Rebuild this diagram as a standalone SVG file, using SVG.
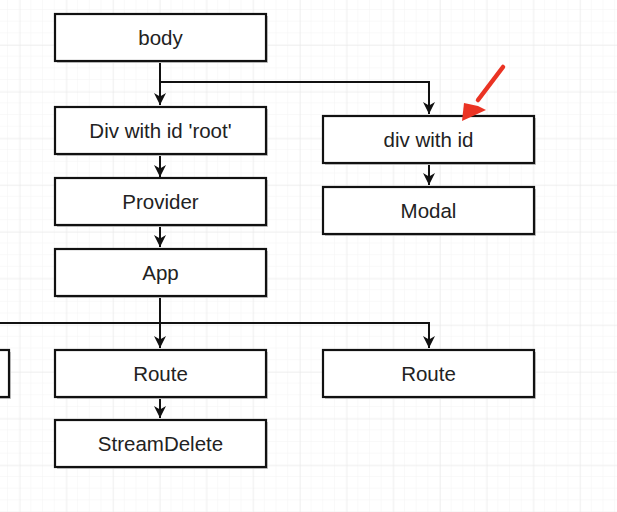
<svg xmlns="http://www.w3.org/2000/svg" width="617" height="512" viewBox="0 0 617 512">
<defs>
<pattern id="minor" x="19.7" y="-1.7" width="11.675" height="11.675" patternUnits="userSpaceOnUse">
<path d="M11.675 0V11.675H0" fill="none" stroke="#f3f3f3" stroke-width="1"/>
</pattern>
<pattern id="major" x="19.7" y="-1.7" width="46.7" height="46.7" patternUnits="userSpaceOnUse">
<path d="M0 0V46.7M0 0H46.7" fill="none" stroke="#e8e8e8" stroke-width="1"/>
</pattern>
<marker id="ah" viewBox="0 0 12 12" refX="12" refY="6" markerWidth="12" markerHeight="12" markerUnits="userSpaceOnUse" orient="auto">
<path d="M0 0L12 6L0 12L3.5 6Z" fill="#111"/>
</marker>
</defs>
<style>
.box{fill:#fff;stroke:#111;stroke-width:2.2}
.sh{fill:#c8c8c8}
.lbl{font-family:"Liberation Sans",Arial,sans-serif;font-size:20.5px;fill:#222;text-anchor:middle}
.ln{fill:none;stroke:#111;stroke-width:2}
</style>
<rect width="617" height="512" fill="#fff"/>
<rect width="617" height="512" fill="url(#minor)"/>
<rect width="617" height="512" fill="url(#major)"/>

<g id="connectors">
<path class="ln" d="M160 61V105" marker-end="url(#ah)"/>
<path class="ln" d="M160 82H429V114" marker-end="url(#ah)"/>
<path class="ln" d="M160 154V177" marker-end="url(#ah)"/>
<path class="ln" d="M160 225V247" marker-end="url(#ah)"/>
<path class="ln" d="M160 296V348" marker-end="url(#ah)"/>
<path class="ln" d="M0 323H429V348" marker-end="url(#ah)"/>
<path class="ln" d="M429 163V185" marker-end="url(#ah)"/>
<path class="ln" d="M160 397V418" marker-end="url(#ah)"/>
</g>

<g id="node-body"><rect class="sh" x="57" y="16" width="211" height="47"/><rect class="box" x="55" y="14" width="211" height="47"/><text class="lbl" x="160.5" y="45">body</text></g>
<g id="node-root"><rect class="sh" x="57" y="109" width="211" height="47"/><rect class="box" x="55" y="107" width="211" height="47"/><text class="lbl" x="160.5" y="138">Div with id 'root'</text></g>
<g id="node-provider"><rect class="sh" x="57" y="180" width="211" height="47"/><rect class="box" x="55" y="178" width="211" height="47"/><text class="lbl" x="160.5" y="209">Provider</text></g>
<g id="node-app"><rect class="sh" x="57" y="251" width="211" height="47"/><rect class="box" x="55" y="249" width="211" height="47"/><text class="lbl" x="160.5" y="280">App</text></g>
<g id="node-divid"><rect class="sh" x="325" y="118" width="211" height="47"/><rect class="box" x="323" y="116" width="211" height="47"/><text class="lbl" x="428.5" y="147">div with id</text></g>
<g id="node-modal"><rect class="sh" x="325" y="189" width="211" height="47"/><rect class="box" x="323" y="187" width="211" height="47"/><text class="lbl" x="428.5" y="218">Modal</text></g>
<g id="node-route-left"><rect class="sh" x="-200" y="352" width="211" height="47"/><rect class="box" x="-202" y="350" width="211" height="47"/></g>
<g id="node-route-mid"><rect class="sh" x="57" y="352" width="211" height="47"/><rect class="box" x="55" y="350" width="211" height="47"/><text class="lbl" x="160.5" y="381">Route</text></g>
<g id="node-route-right"><rect class="sh" x="325" y="352" width="211" height="47"/><rect class="box" x="323" y="350" width="211" height="47"/><text class="lbl" x="428.5" y="381">Route</text></g>
<g id="node-streamdelete"><rect class="sh" x="57" y="422" width="211" height="47"/><rect class="box" x="55" y="420" width="211" height="47"/><text class="lbl" x="160.5" y="451">StreamDelete</text></g>

<g id="annotation">
<path d="M503 67L478 100" fill="none" stroke="#ea3323" stroke-width="4.5" stroke-linecap="round"/>
<path d="M462 121L464 103L478 106L486 110Z" fill="#ea3323"/>
</g>
</svg>
